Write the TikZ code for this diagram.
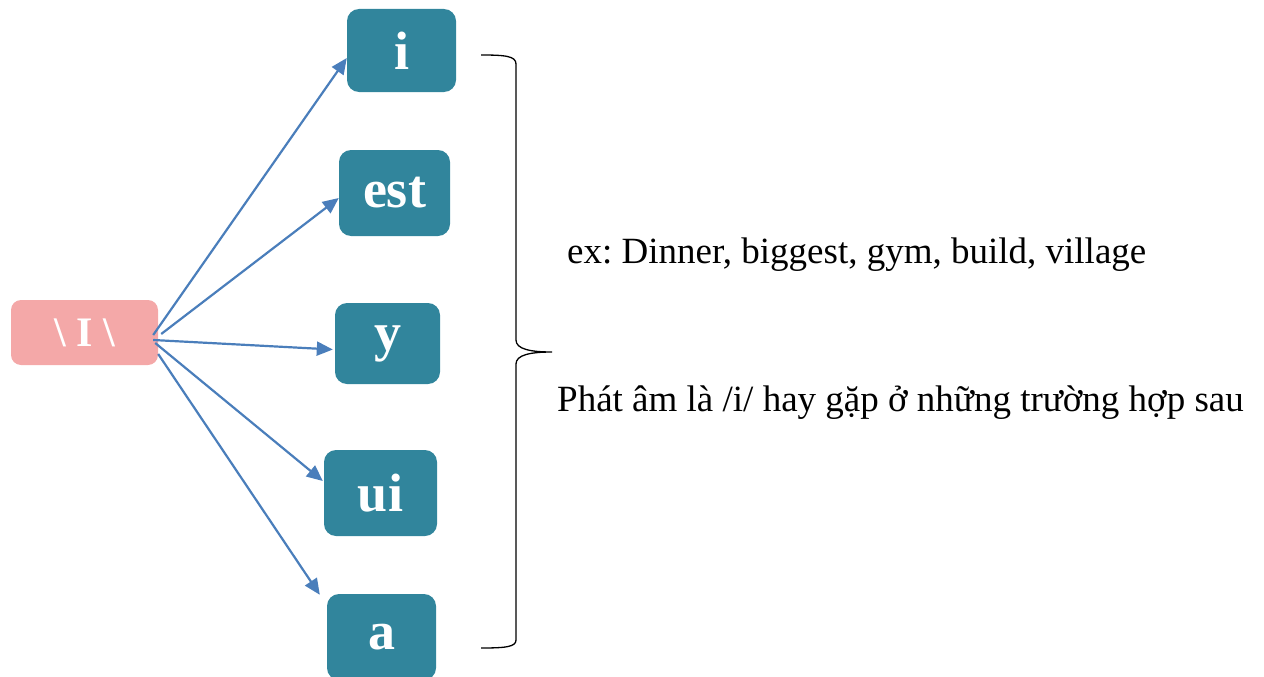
\documentclass[tikz,border=0pt]{standalone}
\usepackage{fontspec}
\setmainfont{Liberation Serif}
\usetikzlibrary{arrows.meta}
\definecolor{teal5}{HTML}{31859C}
\definecolor{pinkbox}{HTML}{F4A8A8}
\definecolor{arrowblue}{HTML}{4A7EBB}
\frenchspacing
\tikzset{
  letterbox/.style={fill=teal5, rounded corners=12pt, inner sep=0pt, text=white,
    font=\fontsize{54}{60}\selectfont\bfseries},
  srcbox/.style={fill=pinkbox, rounded corners=10pt, inner sep=0pt, text=white,
    font=\fontsize{42}{48}\selectfont\bfseries, minimum width=147pt, minimum height=65pt},
  conn/.style={draw=arrowblue, line width=2.2pt, -{Triangle[length=16pt,width=14pt]}},
  bodytext/.style={inner sep=0pt, anchor=base west, font=\fontsize{37}{44}\selectfont},
  bracestyle/.style={draw=black, line width=1.3pt}
}
\begin{document}
\begin{tikzpicture}[x=1pt,y=-1pt]
\path[use as bounding box] (0,0) rectangle (1264,677);
\node[srcbox] (src) at (84.5,332.5) {\textbackslash\ I \textbackslash};
\node[letterbox, minimum width=109pt, minimum height=83pt] (i) at (401.5,50.5) {i};
\node[letterbox, minimum width=111pt, minimum height=86pt] (est) at (394.5,193) {est};
\node[letterbox, minimum width=105pt, minimum height=81pt] (y) at (387.5,343.5) {y};
\node[letterbox, minimum width=113pt, minimum height=86pt] (ui) at (380.5,493) {ui};
\node[letterbox, minimum width=109pt, minimum height=86pt] (a) at (381.5,637) {a};
\draw[conn] ([xshift=-5pt,yshift=-2.5pt]src.east) -- ([yshift=-7.5pt]i.west);
\draw[conn] ([xshift=3pt,yshift=-1.5pt]src.east) -- ([yshift=-5pt]est.west);
\draw[conn] ([xshift=-5pt,yshift=-7.5pt]src.east) -- ([xshift=-2pt,yshift=-6pt]y.west);
\draw[conn] ([xshift=-3pt,yshift=-10.5pt]src.east) -- ([xshift=-1pt,yshift=12pt]ui.west);
\draw[conn] ([xshift=0pt,yshift=-21.5pt]src.east) -- ([xshift=-7pt,yshift=-1pt]a.north west);
\coordinate (bracetip) at (552,352);
\draw[bracestyle] (481,55) .. controls (505,55) and (516,56) .. (516,64) -- (516,340)
  .. controls (516,349) and (530,352) .. (bracetip)
  .. controls (530,352) and (516,355) .. (516,364) -- (516,640)
  .. controls (516,647) and (505,648) .. (481,648);
\node[bodytext] (ex) at (567,263) {ex: Dinner, biggest, gym, build, village};
\node[bodytext] (note) at (557,411) {Phát âm là /i/ hay gặp ở những trường hợp sau};
\end{tikzpicture}
\end{document}
